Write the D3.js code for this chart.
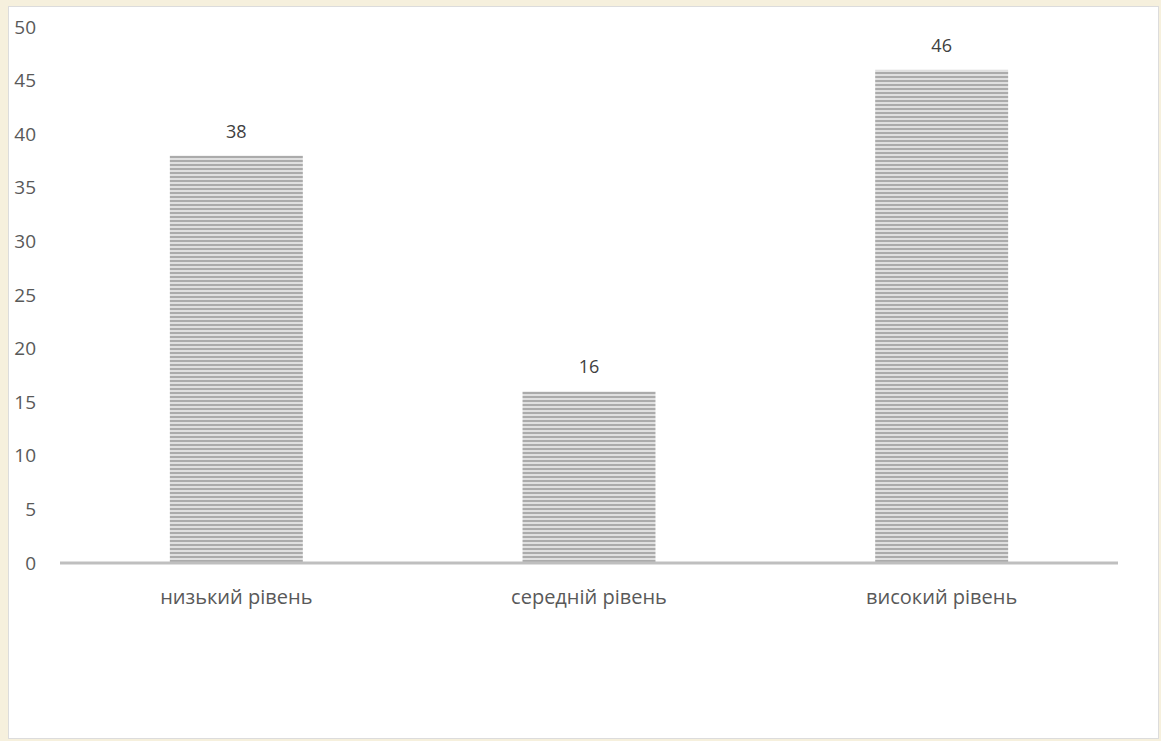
<!DOCTYPE html>
<html><head><meta charset="utf-8">
<script src="https://cdn.jsdelivr.net/npm/d3@7"></script>
<style>
html,body{margin:0;padding:0;background:#f6f0dd;}
svg{display:block;}
</style></head>
<body>
<svg id="chart" width="1161" height="741"></svg>
<script>
const categories = ["низький рівень", "середній рівень", "високий рівень"];
const values = [38, 16, 46];
const yTicks = [0, 5, 10, 15, 20, 25, 30, 35, 40, 45, 50];

const svg = d3.select("#chart");
const W = 1161, H = 741;

svg.append("rect").attr("x", 0).attr("y", 0).attr("width", W).attr("height", H).attr("fill", "#f6f0dd");
svg.append("rect").attr("x", 8.5).attr("y", 6.5).attr("width", 1150).attr("height", 732)
  .attr("fill", "#ffffff").attr("stroke", "#dcdcdc").attr("stroke-width", 1);

const defs = svg.append("defs");
const pat = defs.append("pattern").attr("id", "stripes").attr("patternUnits", "userSpaceOnUse")
  .attr("width", 8).attr("height", 4);
pat.append("rect").attr("x", 0).attr("y", 0).attr("width", 8).attr("height", 4).attr("fill", "#e0e0e0");
pat.append("rect").attr("x", 0).attr("y", 0).attr("width", 8).attr("height", 2).attr("fill", "#ababab");

const x = d3.scaleBand().domain(categories).range([60, 1118]).paddingInner(0.623).paddingOuter(0.3115);
const y = d3.scaleLinear().domain([0, 50]).range([563, 27]);

const font = "'Open Sans', 'Noto Sans', sans-serif";

// y tick labels
svg.append("g").selectAll("text").data(yTicks).join("text")
  .attr("x", 36).attr("y", d => y(d)).attr("dy", "0.35em")
  .attr("text-anchor", "end").attr("font-family", font).attr("font-size", 19).attr("fill", "#595959")
  .text(d => d);

// bars
svg.append("g").selectAll("rect").data(values).join("rect")
  .attr("x", (d, i) => x(categories[i]))
  .attr("y", d => y(d))
  .attr("width", x.bandwidth())
  .attr("height", d => y(0) - y(d))
  .attr("fill", "url(#stripes)");

// axis line
svg.append("line").attr("x1", 60).attr("x2", 1118).attr("y1", y(0)).attr("y2", y(0))
  .attr("stroke", "#bfbfbf").attr("stroke-width", 3);

// value labels
svg.append("g").selectAll("text").data(values).join("text")
  .attr("x", (d, i) => x(categories[i]) + x.bandwidth() / 2)
  .attr("y", d => y(d) - 18)
  .attr("text-anchor", "middle").attr("font-family", font).attr("font-size", 18).attr("fill", "#404040")
  .text(d => d);

// category labels
svg.append("g").selectAll("text").data(categories).join("text")
  .attr("x", d => x(d) + x.bandwidth() / 2)
  .attr("y", 604)
  .attr("text-anchor", "middle").attr("font-family", font).attr("font-size", 20).attr("fill", "#595959")
  .text(d => d);
</script>
</body></html>
